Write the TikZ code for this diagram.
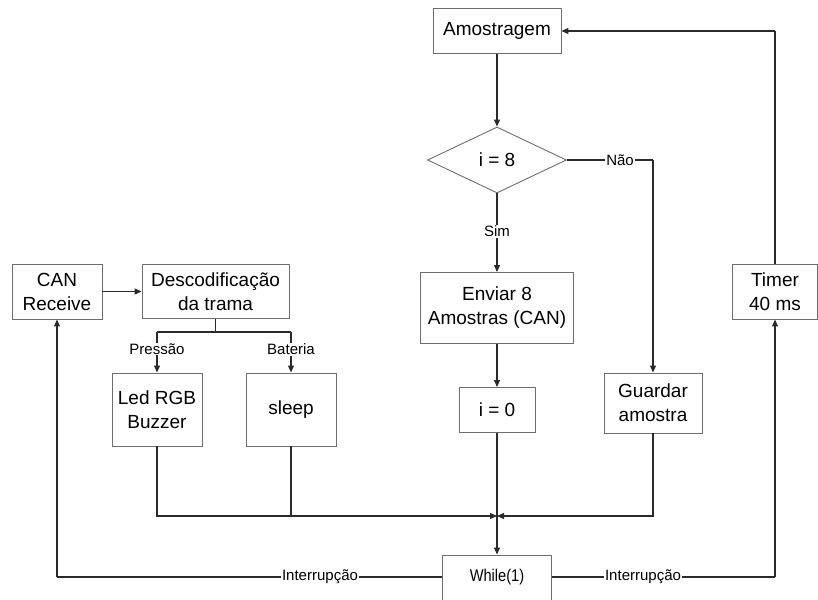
\documentclass[tikz,border=0pt]{standalone}
\usepackage{fontspec}
\setmainfont{Liberation Sans}
\usetikzlibrary{shapes.geometric,arrows.meta}
\definecolor{boxline}{HTML}{6E6E6E}
\definecolor{conn}{HTML}{2A2A2A}
\tikzset{
  blk/.style={draw=boxline,line width=0.9pt,fill=white,align=center,inner sep=2pt,
    font=\fontsize{19}{24}\selectfont},
  cond/.style={draw=boxline,line width=0.9pt,diamond,inner sep=0pt,
    font=\fontsize{19}{24}\selectfont},
  lbl/.style={fill=white,inner sep=1pt,font=\fontsize{15}{18}\selectfont},
  conline/.style={draw=conn,line width=1.1pt},
  arr/.style={conline,-{Triangle[length=7pt,width=6pt]}}
}
\begin{document}
\begin{tikzpicture}[x=1pt,y=-1pt]
\useasboundingbox (0,0) rectangle (818,599);
% nodes
\node[blk,minimum width=128pt,minimum height=45pt] (am) at (497,31) {Amostragem};
\node[cond,minimum width=139pt,minimum height=66pt] (dec) at (497,160) {i = 8};
\node[blk,minimum width=153pt,minimum height=71pt] (env) at (497,308) {Enviar 8\\Amostras (CAN)};
\node[blk,minimum width=76pt,minimum height=45pt] (i0) at (497,410) {i = 0};
\node[blk,minimum width=98pt,minimum height=60pt] (guard) at (653,403) {Guardar\\amostra};
\node[blk,minimum width=85pt,minimum height=55pt] (timer) at (775,291.5) {Timer\\40 ms};
\node[blk,minimum width=90pt,minimum height=55pt] (can) at (57,291.5) {CAN\\Receive};
\node[blk,minimum width=147pt,minimum height=54pt] (desc) at (215.5,291.5) {Descodificação\\da trama};
\node[blk,minimum width=90pt,minimum height=73pt] (led) at (157,409.5) {Led RGB\\Buzzer};
\node[blk,minimum width=90pt,minimum height=73pt] (sleep) at (291,409.5) {sleep};
\node[blk,minimum width=109pt,minimum height=50pt] (wh) at (497,580) {};
\node[font=\fontsize{17}{20}\selectfont] (whtxt) at (497,577) {\scalebox{0.86}[1]{While(1)}};
% coordinates
\coordinate (naoc) at (653,160);
\coordinate (merge) at (497,516);
\coordinate (ledb) at (157,516);
\coordinate (sleepb) at (291,516);
\coordinate (guardb) at (653,516);
\coordinate (canb) at (57,577);
\coordinate (timb) at (775,577);
\coordinate (timt) at (775,31);
\coordinate (split) at (215.5,332);
\coordinate (splitl) at (157,332);
\coordinate (splitr) at (291,332);
% connectors
\draw[arr] (am.south) -- (dec.north);
\draw[arr] (dec.south) -- node[lbl,pos=0.48]{Sim} (env.north);
\draw[conline] (dec.east) -- (naoc);
\node[lbl] (nao) at (620,160) {Não};
\draw[arr] (naoc) -- (guard.north);
\draw[arr] (env.south) -- (i0.north);
\draw[arr] (i0.south) -- (wh.north);
\draw[arr] (led.south) -- (ledb) -- (merge);
\draw[conline] (sleep.south) -- (sleepb);
\draw[arr] (guard.south) -- (guardb) -- (merge);
\draw[conline] (wh.west |- canb) -- (canb);
\draw[arr] (canb) -- (can.south);
\node[lbl] (int1) at (320,577) {Interrupção};
\draw[conline] (wh.east |- timb) -- (timb);
\draw[arr] (timb) -- (timer.south);
\node[lbl] (int2) at (643,577) {Interrupção};
\draw[conline] (timer.north) -- (timt);
\draw[arr] (timt) -- (am.east);
\draw[arr] (can.east) -- (desc.west);
\draw[conline] (desc.south) -- (split);
\draw[conline] (splitl) -- (splitr);
\draw[arr] (splitl) -- node[lbl,pos=0.42]{Pressão} (led.north);
\draw[arr] (splitr) -- node[lbl,pos=0.42]{Bateria} (sleep.north);
\end{tikzpicture}
\end{document}
